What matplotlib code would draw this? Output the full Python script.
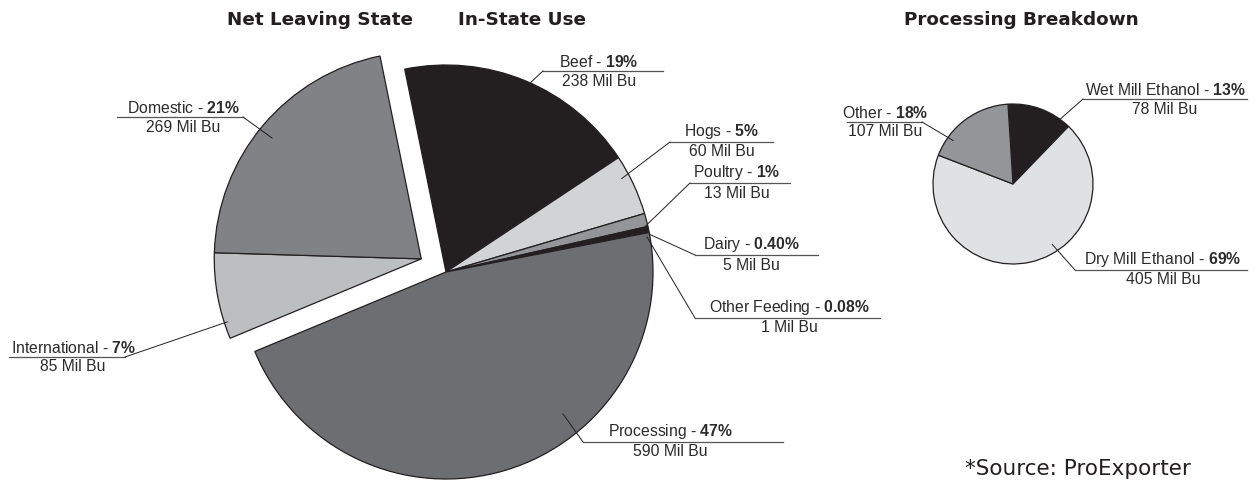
import numpy as np
import matplotlib
matplotlib.use("Agg")
import matplotlib.pyplot as plt

plt.rcParams['font.family'] = ['Liberation Sans', 'DejaVu Sans']
plt.rcParams['mathtext.fontset'] = 'custom'
plt.rcParams['mathtext.rm'] = 'Liberation Sans'
plt.rcParams['mathtext.bf'] = 'Liberation Sans:bold'

# corn usage, million bushels
use_labels = ['Beef', 'Hogs', 'Poultry', 'Dairy', 'Other Feeding',
              'Processing', 'International', 'Domestic']
use_values = [238, 60, 13, 5, 1, 590, 85, 269]
use_pcts = ['19%', '5%', '1%', '0.40%', '0.08%', '47%', '7%', '21%']
leaving = ['International', 'Domestic']

proc_labels = ['Wet Mill Ethanol', 'Dry Mill Ethanol', 'Other']
proc_values = [78, 405, 107]
proc_pcts = ['13%', '69%', '18%']

use_colors = ['#231f20', '#d1d3d4', '#939598', '#231f20', '#e6e7e8',
              '#6d6e71', '#bcbec0', '#808285']
proc_colors = ['#231f20', '#e0e1e3', '#939598']

W, H = 1256, 481
fig = plt.figure(figsize=(W / 100, H / 100), dpi=100)
ax = fig.add_axes([0, 0, 1, 1])


def Y(y):
    # layout below is given top-down in pixels
    return H - y


main_c = (446, Y(273))
main_r = 207
small_c = (1013, Y(185))
small_r = 80

edge = dict(edgecolor='#231f20', linewidth=0.9)
wedges, _ = ax.pie(use_values, colors=use_colors, startangle=101.5,
                   counterclock=False, center=main_c, radius=main_r,
                   wedgeprops=edge)

# pull the "net leaving state" wedges out together
out = [wedges[use_labels.index(n)] for n in leaving]
lo = min(w.theta1 for w in out)
hi = max(w.theta2 for w in out)
mid = np.deg2rad((lo + hi) / 2)
shift = 28
out_c = (main_c[0] + shift * np.cos(mid), main_c[1] + shift * np.sin(mid))
for w in out:
    w.set_center(out_c)

pwedges, _ = ax.pie(proc_values, colors=proc_colors, startangle=93.6,
                    counterclock=False, center=small_c, radius=small_r,
                    wedgeprops=edge)

# label layout: text centre x, underline y, underline x0/x1, leader side,
# leader anchor (angle, radius) from the pie centre
layout = {
    'Beef': (599, 72, 543, 663, 'l', 66, 207),
    'Hogs': (722, 143, 670, 773, 'l', 28, 199),
    'Poultry': (737, 184, 690, 790, 'l', 13, 205),
    'Dairy': (751, 256, 695, 818, 'l', 10.5, 207),
    'Other Feeding': (789, 319, 695, 880, 'l', 9.9, 204),
    'Processing': (670, 443, 583, 783, 'l', -50.5, 184),
    'International': (73, 358, 9, 125, 'r', 198, 204),
    'Domestic': (183, 118, 117, 243, 'r', 141, 192),
    'Wet Mill Ethanol': (1165, 100, 1083, 1247, 'l', 54, 80),
    'Dry Mill Ethanol': (1163, 271, 1075, 1247, 'l', -57, 72),
    'Other': (885, 123, 847, 922, 'r', 144, 74),
}

txt_color = '#2b2b2b'
fs = 11.3


def label(name, pct, value, center):
    cx, uy, x0, x1, side, ang, rad = layout[name]
    ax.text(cx, Y(uy - 2), name + r' - $\mathbf{' + pct.replace('%', r'\%') + '}$',
            ha='center', va='bottom', fontsize=fs, color=txt_color)
    ax.text(cx, Y(uy + 1.5), f'{value} Mil Bu', ha='center', va='top',
            fontsize=fs, color=txt_color)
    ax.plot([x0, x1], [Y(uy), Y(uy)], color='#555555', lw=0.9)
    jx = x0 if side == 'l' else x1
    a = np.deg2rad(ang)
    ax.plot([jx, center[0] + rad * np.cos(a)], [Y(uy), center[1] + rad * np.sin(a)],
            color='#231f20', lw=0.7)


for n, p, v in zip(use_labels, use_pcts, use_values):
    label(n, p, v, out_c if n in leaving else main_c)
for n, p, v in zip(proc_labels, proc_pcts, proc_values):
    label(n, p, v, small_c)

title_kw = dict(ha='center', va='center', fontsize=13.2, fontweight='bold',
                family='DejaVu Sans', color='#231f20')
ax.text(320, Y(20), 'Net Leaving State', **title_kw)
ax.text(522, Y(20), 'In-State Use', **title_kw)
ax.text(1021, Y(20), 'Processing Breakdown', **title_kw)

ax.text(965, Y(469), '*Source: ProExporter', ha='left', va='center',
        fontsize=15.5, family='DejaVu Sans', color='#231f20')

ax.set_xlim(0, W)
ax.set_ylim(0, H)
ax.set_aspect('auto')
ax.axis('off')

fig.savefig('out.png', dpi=100)
